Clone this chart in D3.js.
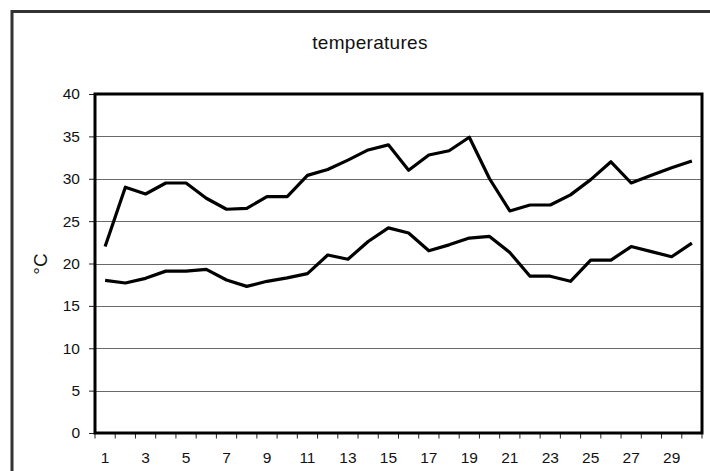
<!DOCTYPE html>
<html>
<head>
<meta charset="utf-8">
<script src="https://cdn.jsdelivr.net/npm/d3@7"></script>
<style>
  html, body { margin: 0; padding: 0; background: #fff; }
  svg { display: block; }
  text { font-family: "Liberation Sans", Arial, sans-serif; fill: #111; }
</style>
</head>
<body>
<svg id="chart" width="710" height="471"></svg>
<script>
const days = d3.range(1, 31);
const maxTemps = [22.0, 29.0, 28.2, 29.5, 29.5, 27.7, 26.4, 26.5, 27.9, 27.9,
                  30.4, 31.1, 32.2, 33.4, 34.0, 31.0, 32.8, 33.3, 34.9, 30.0,
                  26.2, 26.9, 26.9, 28.1, 29.9, 32.0, 29.5, 30.4, 31.3, 32.1];
const minTemps = [18.0, 17.7, 18.25, 19.1, 19.1, 19.3, 18.05, 17.3, 17.9, 18.3,
                  18.8, 21.0, 20.5, 22.6, 24.2, 23.6, 21.5, 22.2, 23.0, 23.2,
                  21.3, 18.5, 18.5, 17.9, 20.4, 20.4, 22.0, 21.4, 20.8, 22.4];
const yTicks = [0, 5, 10, 15, 20, 25, 30, 35, 40];
const xLabels = days.filter(d => d % 2 === 1);
const title = "temperatures";
const yTitle = "°C";

const svg = d3.select("#chart");
const L = 95, R = 702, T = 94, B = 433;

// outer frame
svg.append("rect")
  .attr("x", 12).attr("y", 11.5).attr("width", 730).attr("height", 480)
  .attr("fill", "none").attr("stroke", "#333").attr("stroke-width", 3);

const x = d3.scaleBand().domain(days).range([L, R]).paddingInner(0).paddingOuter(0);
const y = d3.scaleLinear().domain([0, 40]).range([B, T]);

// gridlines
svg.append("g").selectAll("line").data(yTicks.filter(v => v > 0 && v < 40)).join("line")
  .attr("x1", L).attr("x2", R)
  .attr("y1", d => Math.round(y(d)) + 0.5).attr("y2", d => Math.round(y(d)) + 0.5)
  .attr("stroke", "#6a6a6a").attr("stroke-width", 1.2);

// y axis ticks & labels
const yAxis = d3.axisLeft(y).tickValues(yTicks).tickSize(6).tickPadding(9);
const gy = svg.append("g").attr("transform", `translate(${L},0)`).call(yAxis);
gy.select(".domain").remove();
gy.selectAll(".tick line").attr("stroke", "#222");
gy.selectAll(".tick text").style("font-size", "15.5px").attr("fill", "#111")
  .style("font-family", "'Liberation Sans', Arial, sans-serif");

// x axis boundary ticks
const boundaries = days.map(d => x(d)).concat([R]);
svg.append("g").selectAll("line").data(boundaries).join("line")
  .attr("x1", d => d).attr("x2", d => d)
  .attr("y1", B).attr("y2", B + 5.5)
  .attr("stroke", "#222").attr("stroke-width", 1);

// x labels
const xAxis = d3.axisBottom(x).tickValues(xLabels).tickSize(0).tickPadding(19);
const gx = svg.append("g").attr("transform", `translate(0,${B})`).call(xAxis);
gx.select(".domain").remove();
gx.selectAll(".tick text").style("font-size", "15.5px").attr("fill", "#111")
  .style("font-family", "'Liberation Sans', Arial, sans-serif");

// plot border
svg.append("rect")
  .attr("x", L).attr("y", T).attr("width", R - L).attr("height", B - T)
  .attr("fill", "none").attr("stroke", "#000").attr("stroke-width", 3);

// lines
const line = d3.line()
  .x((d, i) => x(days[i]) + x.bandwidth() / 2)
  .y(d => y(d));
[maxTemps, minTemps].forEach(series => {
  svg.append("path").datum(series)
    .attr("d", line)
    .attr("fill", "none").attr("stroke", "#000")
    .attr("stroke-width", 3.2).attr("stroke-linejoin", "round");
});

// title
svg.append("text").attr("x", 370).attr("y", 49)
  .attr("text-anchor", "middle").style("font-size", "19px")
  .style("letter-spacing", "0.3px").text(title);

// y title
svg.append("text")
  .attr("transform", "translate(47,264) rotate(-90)")
  .attr("text-anchor", "middle").style("font-size", "19px").text(yTitle);
</script>
</body>
</html>
